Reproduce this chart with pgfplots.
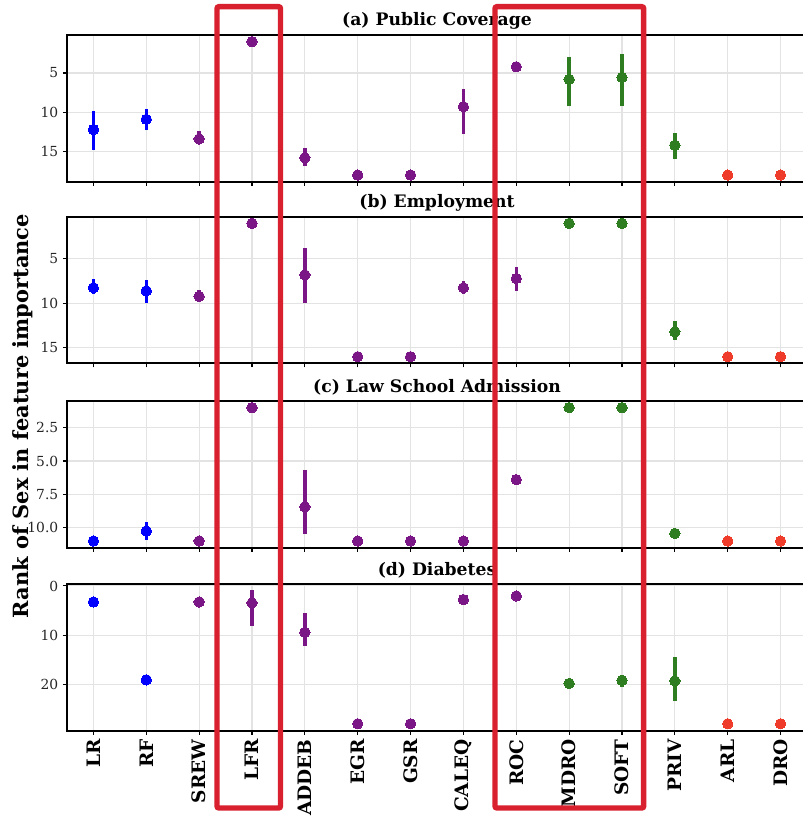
\documentclass[border=0pt]{standalone}
\usepackage{pgfplots}
\pgfplotsset{compat=1.18}
\usepackage{pgfplotstable}
\usepackage{fontspec}
\setmainfont{DejaVu Serif}

\definecolor{cblue}{RGB}{0,0,255}
\definecolor{cpurple}{RGB}{123,22,135}
\definecolor{cgreen}{RGB}{46,125,32}
\definecolor{cred}{RGB}{238,59,42}
\definecolor{boxred}{RGB}{217,32,46}

% columns: x (category index), y (rank), em (error down), ep (error up)
\pgfplotstableread{
x y em ep
0 12.2 2.35 2.6
1 10.9 1.3 1.4
2 13.4 1.0 0.6
3 1 0 0
4 15.8 1.2 1.0
5 18 0.2 0.2
6 18 0.2 0.2
7 9.3 2.3 3.5
8 4.2 0.6 0.6
9 5.8 2.8 3.4
10 5.55 3.0 3.65
11 14.2 1.6 1.8
12 18 0.2 0.2
13 18 0.2 0.2
}\tA

\pgfplotstableread{
x y em ep
0 8.25 0.95 0.65
1 8.6 1.2 1.35
2 9.2 0.7 0.65
3 1 0 0
4 6.8 3.0 3.15
5 16 0.2 0.2
6 16 0.2 0.2
7 8.25 0.75 0.75
8 7.2 1.3 1.4
9 1 0.15 0.15
10 1 0.15 0.15
11 13.2 1.2 0.9
12 16 0.15 0.15
13 16 0.15 0.15
}\tB

\pgfplotstableread{
x y em ep
0 11 0 0
1 10.25 0.65 0.65
2 11 0.1 0.1
3 1 0.1 0.1
4 8.44 2.74 2.06
5 11 0.1 0.1
6 11 0.1 0.1
7 11 0.1 0.1
8 6.4 0.3 0.3
9 1 0.1 0.1
10 1 0.1 0.1
11 10.43 0.35 0.35
12 11 0.1 0.1
13 11 0.1 0.1
}\tC

\pgfplotstableread{
x y em ep
0 3.25 0 0
1 19.07 0 0
2 3.25 0 0
3 3.45 2.72 4.65
4 9.4 3.9 2.8
5 28 0.2 0.2
6 28 0.2 0.2
7 2.77 0.1 0.1
8 2.03 0.2 0.2
9 19.8 0.4 0.4
10 19.2 1.2 1.3
11 19.3 4.9 4.0
12 28 0.2 0.2
13 28 0.2 0.2
}\tD

\pgfplotsset{
  panel/.style={
    anchor=north west,
    width=555pt, height=110pt, scale only axis,
    xmin=-0.5, xmax=13.5, y dir=reverse,
    xtick={0,...,13}, xticklabels={},
    grid=major, grid style={gray!22, line width=0.8pt},
    axis line style={black, line width=1.7pt},
    tick align=outside, xtick pos=left, ytick pos=left,
    major tick length=3pt, tick style={black, line width=0.8pt},
    yticklabel style={font=\fontsize{10.4}{12}\selectfont, text=black!85},
    /pgf/number format/assume math mode=true,
    title style={font=\bfseries\fontsize{12.9}{14}\selectfont, yshift=-5.5pt},
    clip=false,
  },
  grp/.style={only marks, mark=*, mark size=3.9pt, color=#1,
    mark options={fill=#1, draw=#1, line width=0pt},
    error bars/.cd, y dir=both, y explicit, error mark=none,
    error bar style={line width=2.5pt, color=#1}},
}

\newcommand\fourplots[1]{%
  \addplot[restrict x to domain=0:1, grp=cblue] table[x=x, y=y, y error plus=ep, y error minus=em] {#1};
  \addplot[restrict x to domain=2:8, grp=cpurple] table[x=x, y=y, y error plus=ep, y error minus=em] {#1};
  \addplot[restrict x to domain=9:11, grp=cgreen] table[x=x, y=y, y error plus=ep, y error minus=em] {#1};
  \addplot[restrict x to domain=12:13, grp=cred] table[x=x, y=y, y error plus=ep, y error minus=em] {#1};
}

\begin{document}
\begin{tikzpicture}[x=0.75pt, y=0.75pt]

\begin{axis}[panel, at={(50.25pt,585.75pt)}, ymin=0.15, ymax=18.85, ytick={5,10,15},
  title={(a) Public Coverage}]
\fourplots{\tA}
\end{axis}

\begin{axis}[panel, at={(50.25pt,449.475pt)}, ymin=0.25, ymax=16.75, ytick={5,10,15},
  title={(b) Employment}]
\fourplots{\tB}
\end{axis}

\begin{axis}[panel, at={(50.25pt,311.25pt)}, ymin=0.5, ymax=11.5, ytick={2.5,5,7.5,10},
  yticklabel style={/pgf/number format/.cd, fixed, fixed zerofill, precision=1},
  title={(c) Law School Admission}]
\fourplots{\tC}
\end{axis}

\begin{axis}[panel, at={(50.25pt,174pt)}, ymin=-0.4, ymax=29.4, ytick={0,10,20},
  title={(d) Diabetes},
  xticklabels={LR,RF,SREW,LFR,ADDEB,EGR,GSR,CALEQ,ROC,MDRO,SOFT,PRIV,ARL,DRO},
  xticklabel style={rotate=90, anchor=east, font=\bfseries\fontsize{13.9}{15}\selectfont}]
\fourplots{\tD}
\end{axis}

\node[rotate=90, font=\bfseries\fontsize{15.7}{18}\selectfont] at (23,400) {Rank of Sex in feature importance};

\draw[boxred, line width=4.1pt, rounded corners=1.5pt] (217,809.3) rectangle (280.5,8);
\draw[boxred, line width=4.1pt, rounded corners=1.5pt] (495,809.3) rectangle (643.7,8);

\pgfresetboundingbox
\path[use as bounding box] (0,0) rectangle (802,816);
\end{tikzpicture}
\end{document}
